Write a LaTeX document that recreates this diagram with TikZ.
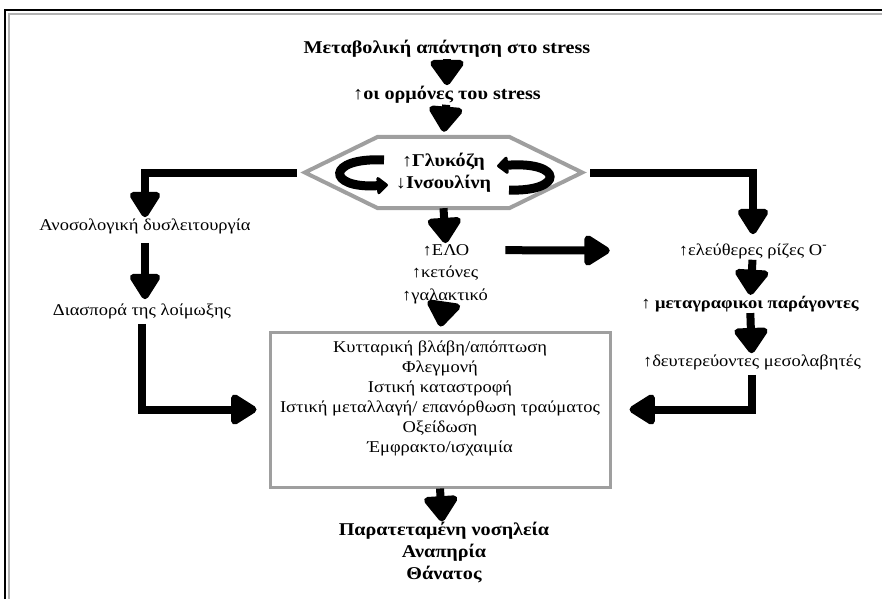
\documentclass[tikz,border=0pt]{standalone}
\usepackage{fontspec}
\setmainfont[FakeStretch=1.12]{Liberation Serif}
\usetikzlibrary{arrows.meta}
\tikzset{
  lbl/.style={font=\fontsize{16.5}{20}\selectfont, inner sep=1pt, align=center},
  lblb/.style={lbl, font=\fontsize{18}{22}\selectfont\bfseries},
  shortarr/.style={line width=8pt, -{Triangle[round,length=28pt,width=38pt]}},
  longarr/.style={line width=8pt, -{Triangle[round,length=29pt,width=34pt]}},
  hexline/.style={draw=gray!75, line width=4pt},
  boxline/.style={draw=gray!75, line width=3pt},
  curl/.style={line width=9pt, -{Triangle[round,length=12pt,width=20pt]}}
}
\begin{document}
\begin{tikzpicture}[x=1pt,y=-1pt]
		\useasboundingbox (0,0) rectangle (882,599);
		\draw [line width=2pt] (5,599) -- (5,10) -- (882,10);
		\draw [gray!60, line width=1.2pt] (9,599) -- (9,14) -- (882,14);

		\node[lblb] (title) at (447,49) {Μεταβολική απάντηση στο stress};
		\node[lblb] (horm) at (447,95) {↑οι ορμόνες του  stress};
		\node[lblb, minimum width=277pt, minimum height=71pt] (hex) at (443.5,172.5) {↑Γλυκόζη\\↓Ινσουλίνη};
		\draw[hexline] (hex.west) -- ([xshift=73pt]hex.north west) -- ([xshift=-73pt]hex.north east) -- (hex.east) -- ([xshift=-73pt]hex.south east) -- ([xshift=73pt]hex.south west) -- cycle;
		\draw[curl] (384,160) .. controls (326,157) and (326,189) .. (388,185);
		\draw[curl] (509,190) .. controls (564,192) and (564,161) .. (497,166);

		\node[lbl] (immune) at (145,226) {Ανοσολογική δυσλειτουργία};
		\node[lbl] (spread) at (142,311) {Διασπορά της λοίμωξης};
		\node[lbl] (elo) at (446,250) {↑ΕΛΟ};
		\node[lbl] (keto) at (445,273) {↑κετόνες};
		\node[lbl] (lact) at (445,296) {↑γαλακτικό};
		\node[lbl] (radic) at (753,251) {↑ελεύθερες ρίζες  O\textsuperscript{-}};
		\node[lblb, font=\fontsize{16.5}{20}\selectfont\bfseries] (transc) at (750,304) {↑ μεταγραφικοι παράγοντες};
		\node[lbl] (second) at (752,362) {↑δευτερεύοντες   μεσολαβητές};

		\node[boxline, minimum width=340pt, minimum height=155pt] (box) at (440,409.5) {};
		\node[lbl] (boxtxt) at (440,398) {Κυτταρική βλάβη/απόπτωση\\Φλεγμονή\\Ιστική καταστροφή\\Ιστική μεταλλαγή/ επανόρθωση τραύματος\\Οξείδωση\\Έμφρακτο/ισχαιμία};
		\node[lblb] (outcome) at (444,553) {Παρατεταμένη νοσηλεία\\Αναπηρία\\Θάνατος};

		\draw[shortarr] (title) -- (horm);
		\draw[shortarr, shorten >=5pt] (horm) -- (hex.north);
		\draw[shortarr] (hex.south) -- (elo);
		\draw[shortarr, shorten >=4pt] (lact) -- (box.north);
		\draw[shortarr] (box.south) -- (outcome);
		\draw[shortarr] (radic) -- (transc);
		\draw[shortarr] (transc) -- (second);

		\draw[longarr, shorten <=8pt] (hex.west) -| (immune.north);
		\draw[longarr, shorten <=8pt, shorten >=3pt] (immune.south) -- (immune.south |- spread.north);
		\draw[longarr, shorten <=4pt, shorten >=12pt] (spread.south) |- (box.west);
		\draw[longarr, shorten <=8pt, shorten >=8pt] (hex.east) -| (radic.north);
		\draw[longarr, shorten <=4pt, shorten >=18pt] (second.south) |- (box.east);
		\draw[longarr, shorten <=35pt, shorten >=68pt] (elo) -- (radic);
\end{tikzpicture}
\end{document}
